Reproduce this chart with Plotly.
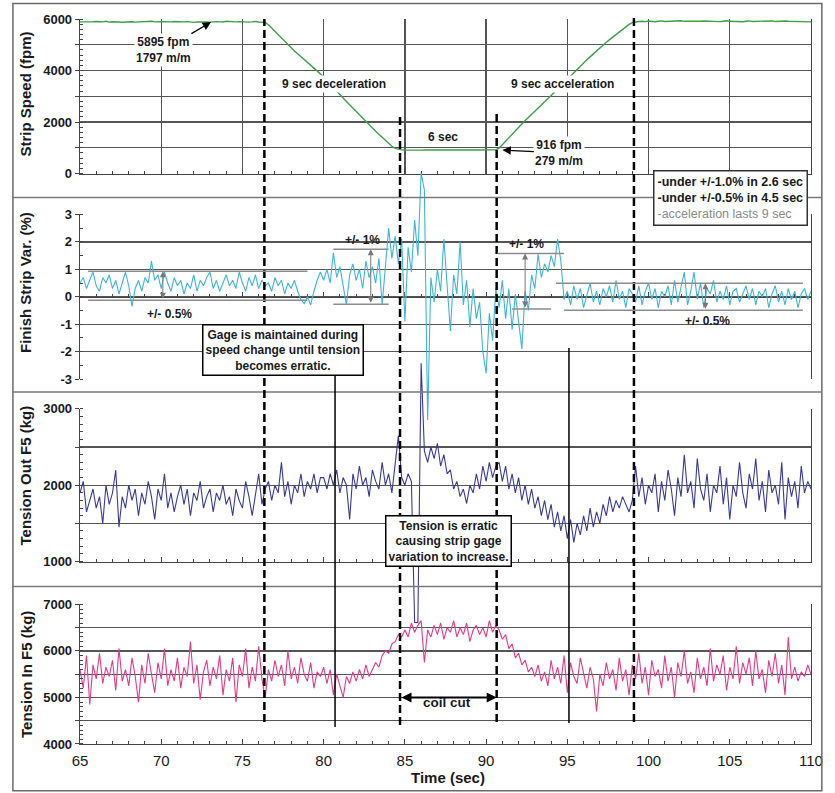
import plotly.graph_objects as go

# ---------------- data ----------------
T0 = 65.0   # time of first sample (s)
DT = 0.2    # sample spacing (s)

speed_fpm = [
    5890, 5885, 5900, 5880, 5895, 5905, 5885, 5890, 5910, 5880,
    5895, 5900, 5885, 5875, 5890, 5905, 5895, 5880, 5890, 5900,
    5885, 5895, 5910, 5890, 5880, 5895, 5900, 5885, 5890, 5905,
    5895, 5880, 5890, 5900, 5885, 5870, 5890, 5895, 5905, 5885,
    5880, 5895, 5900, 5890, 5885, 5910, 5895, 5880, 5890, 5900,
    5885, 5895, 5880, 5890, 5905, 5885, 5880,
    5870, 5780, 5650, 5520, 5390, 5250, 5110, 4980, 4870, 4760,
    4650, 4540, 4430, 4320, 4210, 4100, 4000, 3870, 3740, 3600,
    3470, 3340, 3210, 3070, 2940, 2800, 2670, 2540, 2400, 2270,
    2140, 2000, 1880, 1760, 1640, 1530, 1410, 1290, 1170, 1060,
    980, 935, 920,
    915, 920, 910, 918, 925, 912, 916, 922, 908, 915,
    920, 913, 918, 910, 925, 916, 912, 920, 915, 908,
    918, 922, 914, 916, 910, 920, 915, 918,
    925, 990, 1120, 1260, 1390, 1520, 1660, 1790, 1930, 2060,
    2180, 2300, 2420, 2530, 2650, 2770, 2880, 3000, 3130, 3270,
    3400, 3530, 3670, 3800, 3930, 4060, 4180, 4300, 4420, 4530,
    4650, 4770, 4880, 5000, 5100, 5200, 5300, 5400, 5500, 5600,
    5700, 5790, 5860, 5890,
    5905, 5915, 5900, 5920, 5910, 5895, 5915, 5925, 5905, 5910,
    5920, 5900, 5915, 5930, 5910, 5905, 5920, 5915, 5900, 5910,
    5925, 5915, 5905, 5920, 5910, 5900, 5915, 5930, 5910, 5905,
    5920, 5910, 5895, 5915, 5925, 5905, 5910, 5920, 5900, 5915,
    5910, 5925, 5905, 5915, 5900, 5920, 5910, 5905, 5915, 5900,
    5910, 5895, 5905, 5890,
]

strip_var_pct = [
    0.5, 0.7, 0.3, 0.6, 0.9, 0.4, 0.2, 0.7, 0.5, 0.8,
    0.3, 0.6, 0.1, 0.5, 0.9, 0.4, -0.35, 0.3, 0.6, 0.2,
    0.7, 0.5, 1.3, 0.6, 0.8, 0.3, 0.9, 0.5, 0.2, 0.7,
    0.4, 0.6, 0.1, 0.5, 0.3, 0.8, 0.2, 0.6, 0.4, 0.7,
    0.9, 0.3, 0.6, 0.2, 0.5, 0.8, 0.4, 0.6, 0.3, 0.9,
    0.5, 0.2, 0.7, 0.4, 0.8, 0.3, 0.6, 0.4,
    0.5, 0.2, 0.7, 0.4, 0.6, 0.1, 0.5, 0.3, 0.6, 0.2,
    -0.1, -0.25, 0.0, -0.3, 0.2, 0.6, 0.9,
    0.6, 1.0, 0.5, 1.6, 0.7, 1.1, 0.4, -0.3, 0.8, 1.2,
    0.6, 1.0, 0.3, 1.3, 0.7, 1.1, 0.5, 1.4, -0.3, 1.0,
    2.5, 1.4, 2.2, 1.2, 2.1,
    -0.9, 1.8, 0.9, 2.8, 1.5, 4.5, 3.9, -4.5, 0.7, -0.2,
    1.0, 0.2, 2.1, 0.4, -1.25, 0.8, 0.1, 2.0, -0.3, 0.6,
    -1.1, 0.3, -0.8, -0.2, -2.0, -2.8, -0.6, -1.6, 0.3,
    -0.4, 0.6, -0.8, 0.3, -1.2, 0.1, -0.9, -1.9, 0.2, -0.5,
    0.8, 0.3, 1.55, 0.7, 1.2, 0.9, 1.5, 1.1, 2.1, 1.3,
    -0.1,
    0.2, -0.3, 0.4, -0.1, 0.3, -0.4, 0.1, 0.5, -0.2, 0.2,
    -0.3, 0.3, 0.0, 0.4, -0.2, 0.6, -0.1, 0.2, -0.4, 0.3,
    0.1, -0.2, 0.4, -0.3, 0.2, 0.5, -0.1, 0.3, -0.4, 0.2,
    0.0, 0.4, -0.3, 0.6, -0.2, 0.3, 0.9, -0.3, 0.2, 0.9,
    -0.1, 0.5, -0.4, 0.3, 0.1, 0.6, -0.2, 0.2, -0.1, 0.4,
    -0.3, 0.2, 0.3, -0.2, 0.1, 0.4, -0.1, 0.3, -0.3, 0.2,
    0.0, 0.3, -0.4, 0.1, 0.4, -0.2, 0.2, -0.3, 0.3, -0.1,
    0.2, -0.4, 0.1, 0.3, -0.1, 0.2,
]

tension_out_kg = [
    1900, 2050, 1650, 1800, 1950, 1700, 1850, 1500, 2000, 1750,
    1900, 2200, 1450, 1850, 1700, 2000, 1800, 1950, 1600, 1900,
    1750, 2050, 1850, 1550, 1950, 1800, 2150, 1700, 1900, 1650,
    1850, 2000, 1750, 1950, 1600, 1900, 1800, 2050, 1700, 1850,
    1950, 1650, 1900, 1800, 2000, 1750, 1850, 1600, 1950, 1800,
    1700, 2050, 1850, 1600, 1900, 2150, 1750, 1950,
    2050, 1800, 2000, 1900, 2300, 1850, 2050, 1750, 2000, 1900,
    2150, 1850, 2050, 1950, 2150, 1900, 2100,
    2100, 1950, 2150, 2000, 2200, 1900, 2100, 2000, 1550, 2150,
    1950, 2250, 2000, 2100, 1850, 2200, 2050, 1950, 2300, 2000,
    2150, 1900, 2250, 2650, 2100,
    2000, 2150, 2050, 200, 200, 3600, 2450, 2300, 2500, 2350,
    2550, 2250, 2400, 2150, 2200, 1950, 2050, 1850, 1950, 1760,
    2000, 1900, 2150, 1950, 2250, 2050, 2300, 2100, 2250,
    2300, 2050, 2250, 1950, 2150, 1900, 2100, 1800, 2000, 1750,
    1950, 1700, 1850, 1600, 1800, 1550, 1750, 1450, 1650, 1400,
    1600,
    1300, 1550, 1250, 1500, 1350, 1600, 1400, 1700, 1450, 1650,
    1500, 1750, 1600, 1850, 1650, 1800, 1700, 1850, 1750, 1650,
    1800,
    2250, 1850, 2100, 1750, 2000, 1900, 2150, 1650, 2050, 1800,
    2200, 1950, 1600, 2100, 1850, 2400, 1900, 2050, 1700, 2350,
    1950, 1800, 2150, 1650, 2000, 1900, 2250, 1750, 2100, 1550,
    2000, 1850, 2300, 1900, 1700, 2150, 1950, 2350, 1800, 2050,
    1650, 2200, 1900, 2000, 1750, 2300, 1550, 2100, 1850, 2050,
    1700, 2250, 1900, 2050, 1950,
]

tension_in_kg = [
    5600, 5200, 5900, 4850, 5700, 5400, 5950, 5300, 5650, 5450,
    5800, 5150, 6050, 5350, 5600, 5250, 5850, 5450, 4900, 5700,
    5300, 5950, 5500, 5100, 5750, 5400, 6050, 5250, 5600, 5350,
    5850, 5200, 5650, 5450, 6200, 5300, 5700, 4950, 5550, 5800,
    5250, 5650, 5400, 5900, 5050, 5600, 5350, 5850, 4900, 5700,
    5450, 6050, 5200, 5650, 5350, 6100, 5400, 5000, 5600, 5350,
    5800, 5450, 5700, 5250, 6000, 5400, 5650, 5300, 5850, 5500,
    5350, 5750, 5200, 5550, 5450, 5650, 5300, 5600, 5050, 5500,
    5250, 5000, 5450, 5300, 5550, 5350, 5600, 5400, 5700, 5450,
    5600, 5750, 5650, 5900, 6000, 5950, 6150, 6200, 6350, 6300,
    6450, 6300, 6600, 6400, 6550, 6650, 5750, 6450, 6300, 6550,
    6350, 6600, 6250, 6500, 6400, 6650, 6300, 6500, 6350, 6600,
    6200, 6450, 6550, 6350, 6500, 6300, 6650, 6400, 6550,
    6450, 6250, 6350, 6050, 6150, 5850, 5950, 5700, 5800, 5550,
    5650,
    5450, 5700, 5350, 5550, 5250, 5800, 5400, 5650, 5300, 5900,
    5100, 5750, 5450, 5300, 5850, 5500, 5200, 5650, 5400, 4700,
    5500, 5250, 5750, 5400, 5600, 5150, 5850, 5350, 5600, 5050,
    5700, 5400, 5950, 5300, 5650, 5050, 5800, 5450, 5600, 5200,
    5900, 5350, 5650, 5000, 5750, 5450, 6000, 5300, 5550, 5100,
    5850, 5400, 5650, 5250, 6050, 5350, 5700, 5500, 5900, 5150,
    5650, 5400, 6100, 5300, 5750, 5500, 5850, 5250, 6000, 5400,
    5600, 5100, 5800, 5450, 5950, 5300, 5700, 5050, 6300, 5400,
    5650, 5350, 5550, 5450, 5700, 5500,
]

time_ticks = [65, 70, 75, 80, 85, 90, 95, 100, 105, 110]
speed_ticks = [0, 1000, 2000, 3000, 4000, 5000, 6000]
speed_tick_labels = ["0", "", "2000", "", "4000", "", "6000"]
var_ticks = [-3, -2, -1, 0, 1, 2, 3]
var_tick_labels = ["-3", "-2", "-1", "0", "1", "2", "3"]
out_ticks = [1000, 1500, 2000, 2500, 3000]
out_tick_labels = ["1000", "", "2000", "", "3000"]
in_ticks = [4000, 4500, 5000, 5500, 6000, 6500, 7000]
in_tick_labels = ["4000", "", "5000", "", "6000", "", "7000"]

# event markers (s)
dashed_events_s = [76.35, 84.7, 90.65, 99.1]
solid_events_s = [80.7, 95.1]

# tolerance bands on the strip-variation panel: (t_start, t_end, value)
band_lines = [
    (65.5, 79.0, 0.93), (65.5, 79.0, -0.13),
    (80.6, 84.0, 1.73), (80.6, 84.0, -0.27),
    (90.7, 94.8, 1.58), (91.6, 94.0, -0.45),
    (94.3, 109.5, 0.49), (94.8, 109.5, -0.49),
]
# (t, upper, lower)
band_arrows = [(70.1, 0.93, -0.13), (82.9, 1.73, -0.27),
               (92.4, 1.58, -0.45), (103.5, 0.49, -0.49)]
# (t, value, label)
band_labels = [(70.5, -0.62, "+/- 0.5%"), (82.4, 2.07, "+/- 1%"),
               (92.5, 1.93, "+/- 1%"), (103.6, -0.88, "+/- 0.5%")]


def sample_times(values):
    return [round(T0 + DT * i, 3) for i in range(len(values))]


# ---------------- layout geometry (pixels -> paper) ----------------
W, H = 835, 793
LP, RP, TP, BP = 80, 821, 17, 744


def fx(p):
    return (p - LP) / (RP - LP)


def fy(p):
    return (BP - p) / (BP - TP)


def dom(top, bot):
    return [fy(bot), fy(top)]


P1, P2, P3, P4 = (17, 172), (213, 378), (408, 561), (604, 744)
R1, R2, R3, R4 = [0, 6000], [-3, 3], [1000, 3000], [4000, 7000]
P2X, P3X = (150, 445), (350, 635)   # extended areas so spikes can overflow


def ext_range(rng, panel, ext):
    k = (rng[1] - rng[0]) / (panel[1] - panel[0])
    return [rng[0] - (ext[1] - panel[1]) * k, rng[1] + (panel[0] - ext[0]) * k]


FONT = "Liberation Sans, Arial, sans-serif"
LINE = "#454545"
GRID = "#555555"
TICKFONT = dict(family=FONT, size=13, color="#1a1a1a", weight="bold")


def xax(**kw):
    d = dict(range=[65, 110], tickmode="array", tickvals=time_ticks,
             ticks="inside", ticklen=5, tickcolor=LINE, tickwidth=1,
             showline=True, linecolor=LINE, linewidth=1.3, zeroline=False,
             showgrid=False, showticklabels=False, fixedrange=True,
             minor=dict(dtick=1, ticks="inside", ticklen=3, tickcolor=LINE,
                        showgrid=False))
    d.update(kw)
    return d


def yax(panel, rng, vals, labels, minor_dt, **kw):
    d = dict(domain=dom(*panel), range=rng, tickmode="array", tickvals=vals,
             ticktext=labels, ticks="outside", ticklen=4, tickcolor=LINE,
             showline=True, mirror=True, linecolor=LINE, linewidth=1.3,
             showgrid=True, gridcolor=GRID, gridwidth=1.3, zeroline=False,
             tickfont=TICKFONT, fixedrange=True,
             minor=dict(dtick=minor_dt, ticks="inside", ticklen=3,
                        tickcolor=LINE, showgrid=False))
    d.update(kw)
    return d


fig = go.Figure()
# empty traces so the frame subplots of panels 2 and 3 are created
fig.add_trace(go.Scatter(x=[], y=[], xaxis="x2", yaxis="y2", hoverinfo="skip"))
fig.add_trace(go.Scatter(x=[], y=[], xaxis="x3", yaxis="y3", hoverinfo="skip"))

fig.add_trace(go.Scatter(x=sample_times(speed_fpm), y=speed_fpm, mode="lines",
                         xaxis="x", yaxis="y",
                         line=dict(color="#3f9e4a", width=1.4)))
fig.add_trace(go.Scatter(x=sample_times(strip_var_pct), y=strip_var_pct,
                         mode="lines", xaxis="x2", yaxis="y5",
                         line=dict(color="#40b4d2", width=1.1)))
fig.add_trace(go.Scatter(x=sample_times(tension_out_kg), y=tension_out_kg,
                         mode="lines", xaxis="x3", yaxis="y6",
                         line=dict(color="#3a3a96", width=1.1)))
fig.add_trace(go.Scatter(x=sample_times(tension_in_kg), y=tension_in_kg,
                         mode="lines", xaxis="x4", yaxis="y4",
                         line=dict(color="#e03a8a", width=1.1)))

shapes = []
# outer frame and panel separators
shapes.append(dict(type="rect", xref="paper", yref="paper",
                   x0=fx(12), x1=fx(832), y0=fy(791), y1=fy(1.5),
                   line=dict(color="#6a6a6a", width=1.5)))
for yy in (196, 391, 586):
    shapes.append(dict(type="line", xref="paper", yref="paper",
                       x0=fx(12), x1=fx(832), y0=fy(yy), y1=fy(yy),
                       line=dict(color="#7a7a7a", width=1.5)))
# dashed event lines
dashed_tops_px = [17, 112, 110, 13]
dashed_bottoms_px = [722, 725, 722, 722]
for t, a, b in zip(dashed_events_s, dashed_tops_px, dashed_bottoms_px):
    shapes.append(dict(type="line", xref="x", yref="paper", x0=t, x1=t,
                       y0=fy(b), y1=fy(a),
                       line=dict(color="black", width=2.5, dash="8px,4px")))
solid_tops_px = [372, 347]
solid_bottoms_px = [727, 723]
for t, a, b in zip(solid_events_s, solid_tops_px, solid_bottoms_px):
    shapes.append(dict(type="line", xref="x", yref="paper", x0=t, x1=t,
                       y0=fy(b), y1=fy(a),
                       line=dict(color="black", width=1.5)))
for t0, t1, v in band_lines:
    shapes.append(dict(type="line", xref="x2", yref="y2", x0=t0, x1=t1,
                       y0=v, y1=v, line=dict(color="#8c8c8c", width=1.5)))

ann = []
TITLE_FONT = dict(family=FONT, size=15, color="#1a1a1a", weight="bold")
for text, yy in (("Strip Speed (fpm)", 92), ("Finish Strip Var. (%)", 281),
                 ("Tension Out F5 (kg)", 475), ("Tension In F5 (kg)", 674)):
    ann.append(dict(xref="paper", yref="paper", x=fx(25), y=fy(yy), text=text,
                    textangle=-90, showarrow=False, font=TITLE_FONT,
                    xanchor="center", yanchor="middle"))
ann.append(dict(xref="paper", yref="paper", x=fx(453), y=fy(778),
                text="Time (sec)", showarrow=False, font=TITLE_FONT,
                xanchor="center", yanchor="middle"))

LBL = dict(family=FONT, size=12, color="#1a1a1a", weight="bold")
for text, xp, yp, bg in (("9 sec deceleration", 337, 82, "white"),
                         ("9 sec acceleration", 569, 82, "white"),
                         ("6 sec", 448, 135, None)):
    d = dict(xref="paper", yref="paper", x=fx(xp), y=fy(yp), text=text,
             showarrow=False, font=LBL, xanchor="center", yanchor="middle",
             borderpad=1)
    if bg:
        d["bgcolor"] = bg
    ann.append(d)

# pointer labels
ann.append(dict(xref="x", yref="y", x=73.07, y=5880, ax=-48, ay=28,
                text="5895 fpm<br>1797 m/m", showarrow=True, arrowhead=2,
                arrowsize=1.3, arrowwidth=1.3, arrowcolor="black",
                bgcolor="white", font=LBL, borderpad=1))
ann.append(dict(xref="x", yref="y", x=91.0, y=916, ax=57, ay=3,
                text="916 fpm<br>279 m/m", showarrow=True, arrowhead=2,
                arrowsize=1.3, arrowwidth=1.3, arrowcolor="black",
                bgcolor="white", font=LBL, borderpad=1))

# boxed notes
ann.append(dict(xref="paper", yref="paper", x=fx(661), y=fy(168),
                xanchor="left", yanchor="top", align="left",
                text="<b>-under +/-1.0% in 2.6 sec</b><br>"
                     "<b>-under +/-0.5% in 4.5 sec</b><br>"
                     "<span style='color:#8a8a8a'>-acceleration lasts 9 sec</span>",
                showarrow=False, bgcolor="white", bordercolor="#333333",
                borderwidth=1.5, borderpad=3,
                font=dict(family=FONT, size=12.5, color="#1a1a1a")))
ann.append(dict(xref="paper", yref="paper", x=fx(285.5), y=fy(349),
                xanchor="center", yanchor="middle", align="center",
                text="Gage is maintained during<br>speed change until tension<br>becomes erratic.",
                showarrow=False, bgcolor="white", bordercolor="black",
                borderwidth=1.5, borderpad=2, font=LBL))
ann.append(dict(xref="paper", yref="paper", x=fx(454), y=fy(540.5),
                xanchor="center", yanchor="middle", align="center",
                text="Tension is erratic<br>causing strip gage<br>variation to increase.",
                showarrow=False, bgcolor="white", bordercolor="black",
                borderwidth=1.5, borderpad=2, font=LBL))

# tolerance arrows and labels
for t, hi, lo in band_arrows:
    ann.append(dict(xref="x2", yref="y2", axref="x2", ayref="y2",
                    x=t, y=hi, ax=t, ay=lo, text="", showarrow=True,
                    arrowside="end+start", arrowhead=2, startarrowhead=2,
                    arrowsize=1.2, startarrowsize=1.2, arrowwidth=1,
                    arrowcolor="#777777"))
for t, v, text in band_labels:
    ann.append(dict(xref="x2", yref="y2", x=t, y=v, text=text,
                    showarrow=False, font=LBL))

# coil cut
ann.append(dict(xref="x4", yref="y4", axref="x4", ayref="y4",
                x=dashed_events_s[2], y=5000, ax=dashed_events_s[1], ay=5000,
                text="", showarrow=True, arrowside="end+start", arrowhead=2,
                startarrowhead=2, arrowsize=1, startarrowsize=1,
                arrowwidth=2, arrowcolor="black"))
ann.append(dict(xref="paper", yref="paper", x=fx(452), y=fy(712),
                text="coil cut", showarrow=False,
                font=dict(family=FONT, size=13.5, color="#1a1a1a", weight="bold")))

fig.update_layout(
    width=W, height=H, autosize=False,
    margin=dict(l=LP, r=W - RP, t=TP, b=H - BP, pad=0),
    paper_bgcolor="white", plot_bgcolor="rgba(0,0,0,0)",
    showlegend=False, font=dict(family=FONT, color="#1a1a1a"),
    xaxis=xax(anchor="y", showgrid=True, gridcolor=GRID, gridwidth=1.3),
    xaxis2=xax(anchor="free", position=fy(P2[0] + (P2[1] - P2[0]) / 2)),
    xaxis3=xax(anchor="y3"),
    xaxis4=xax(anchor="y4", showticklabels=True, ticklabelstandoff=3,
               tickfont=dict(family=FONT, size=15, color="#1a1a1a")),
    yaxis=yax(P1, R1, speed_ticks, speed_tick_labels, 200, anchor="x"),
    yaxis2=yax(P2, R2, var_ticks, var_tick_labels, 0.5, anchor="x2"),
    yaxis3=yax(P3, R3, out_ticks, out_tick_labels, 100, anchor="x3"),
    yaxis4=yax(P4, R4, in_ticks, in_tick_labels, 100, anchor="x4"),
    yaxis5=dict(domain=dom(*P2X), range=ext_range(R2, P2, P2X), anchor="x2",
                visible=False, fixedrange=True),
    yaxis6=dict(domain=dom(*P3X), range=ext_range(R3, P3, P3X), anchor="x3",
                visible=False, fixedrange=True),
    shapes=shapes, annotations=ann,
)

fig.write_html("out.html",
               config={"displayModeBar": False, "staticPlot": True},
               post_script="document.body.style.margin='0px';"
                           "document.body.style.overflow='hidden';")
